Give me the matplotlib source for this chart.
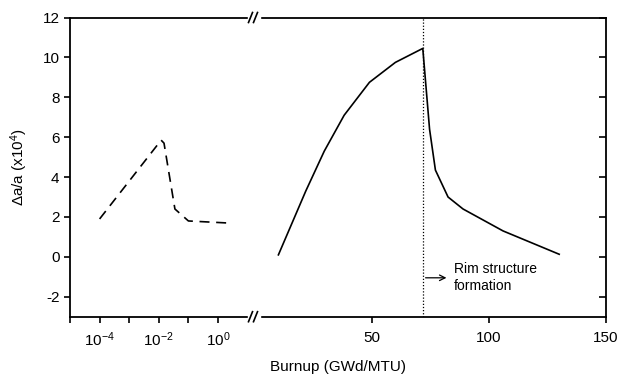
import matplotlib.pyplot as plt
import numpy as np
from matplotlib.lines import Line2D
from matplotlib.patches import Rectangle

plt.rcParams['font.family'] = ['Liberation Sans', 'DejaVu Sans']
plt.rcParams['axes.unicode_minus'] = False
plt.rcParams['mathtext.fontset'] = 'custom'
plt.rcParams['mathtext.rm'] = 'Liberation Sans'
plt.rcParams['mathtext.it'] = 'Liberation Sans:italic'
plt.rcParams['mathtext.default'] = 'regular'

# low burnup data (log axis), dashed curve
low_x = [1e-4, 0.012, 0.015, 0.035, 0.1, 2.0]
low_y = [1.9, 5.85, 5.7, 2.4, 1.8, 1.7]

# high burnup data (linear axis), solid curve
high_x = [10, 21.7, 29.6, 38.1, 48.9, 60, 71.7, 74.6, 77.1, 82.5, 88.9, 106, 130]
high_y = [0.1, 3.3, 5.3, 7.1, 8.75, 9.75, 10.45, 6.4, 4.35, 3.0, 2.4, 1.3, 0.13]

rim_x = 71.7
yticks = [-2, 0, 2, 4, 6, 8, 10, 12]

fig = plt.figure(figsize=(6.19, 3.78), dpi=100)
W, H = 619, 378
x0, xj, x1 = 70, 255, 606
yt, yb = 17.5, 316.7
ax1 = fig.add_axes([x0 / W, 1 - yb / H, (xj - x0) / W, (yb - yt) / H])
ax2 = fig.add_axes([xj / W, 1 - yb / H, (x1 - xj) / W, (yb - yt) / H])

lw = 1.3
ax1.plot(low_x, low_y, color='black', lw=1.2, dashes=(6, 4))
ax1.set_xscale('log')
ax1.set_xlim(1e-5, 10 ** 1.25)
ax1.set_ylim(-3, 12)
ax1.xaxis.set_major_locator(plt.FixedLocator([1e-5, 1e-4, 1e-3, 1e-2, 1e-1, 1e0]))
ax1.xaxis.set_minor_locator(plt.NullLocator())
ax1.set_xticklabels(['', r'10$^{-4}$', '', r'10$^{-2}$', '', r'10$^{0}$'])
ax1.set_yticks(yticks)
ax1.spines['right'].set_visible(False)
for s in ['left', 'top', 'bottom']:
    ax1.spines[s].set_linewidth(lw)
ax1.tick_params(axis='both', direction='out', length=4, width=1.2, labelsize=11)
ax1.tick_params(axis='x', pad=6)
ax1.set_ylabel(r'$\Delta$a/a (x10$^4$)', fontsize=11, labelpad=9)

ax2.plot(high_x, high_y, color='black', lw=1.2)
ax2.axvline(rim_x, color='black', lw=0.9, ls=(0, (1, 1.5)))
ax2.set_xlim(0, 150)
ax2.set_ylim(-3, 12)
ax2.set_xticks([50, 100, 150])
ax2.set_yticks(yticks)
ax2.yaxis.tick_right()
ax2.tick_params(axis='y', direction='in', length=5, width=1.2, labelright=False)
ax2.tick_params(axis='x', direction='out', length=4, width=1.2, labelsize=11, pad=6)
ax2.spines['left'].set_visible(False)
for s in ['right', 'top', 'bottom']:
    ax2.spines[s].set_linewidth(lw)
ax2.annotate('', xy=(83, -1.05), xytext=(rim_x, -1.05),
             arrowprops=dict(arrowstyle='->', color='black', lw=0.9))
ax2.text(85, -1.05, 'Rim structure\nformation', fontsize=10, va='center', ha='left',
         linespacing=1.25)

fig.text(338 / W, 1 - 367 / H, 'Burnup (GWd/MTU)', fontsize=11, ha='center', va='center')

# axis break marks
for yy in [yt, yb]:
    fig.patches.append(Rectangle(((248) / W, 1 - (yy + 3) / H), 12 / W, 6 / H,
                                 transform=fig.transFigure, color='white', zorder=10))
    for dx in [-2.5, 2.5]:
        cx = 253 + dx
        fig.lines.append(Line2D([(cx - 2) / W, (cx + 2) / W],
                                [1 - (yy + 5) / H, 1 - (yy - 5) / H],
                                transform=fig.transFigure, color='black', lw=1.2, zorder=11))

fig.savefig('out.png', dpi=100)
